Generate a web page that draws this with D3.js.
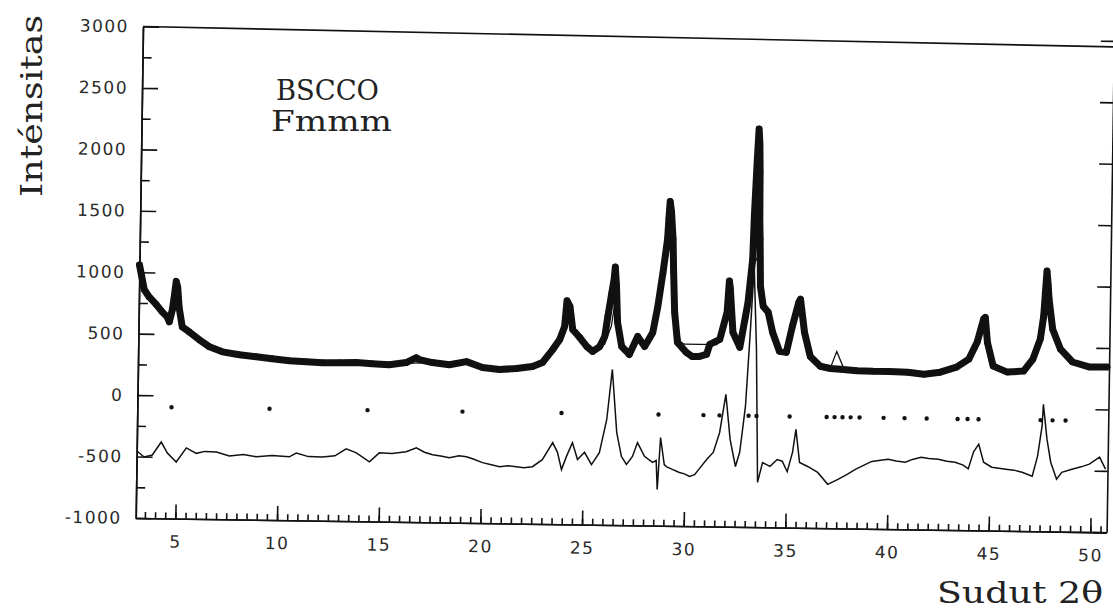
<!DOCTYPE html>
<html>
<head>
  <meta charset="utf-8">
  <title>BSCCO Fmmm</title>
<style>
  body { margin: 0; background: #fff; }
  .tick text { font-family: "DejaVu Sans", sans-serif; font-size: 17px; fill: #2a2a2a; letter-spacing: 1.5px; }
  .axis path, .axis line { stroke: #111; stroke-width: 1.6; }
  .label { font-family: "DejaVu Serif", serif; fill: #222; }
</style>
</head>
<body>
<svg width="1113" height="614"></svg>
<script src="https://cdn.jsdelivr.net/npm/d3@7"></script>
<script>

// observed points (2-theta, counts)
var obsAngle = [3.05,3.14,3.3,3.55,3.9,4.2,4.45,4.56,4.7,4.78,4.87,4.95,5.03,5.2,5.55,6.05,6.55,7.19,8.03,8.86,
  9.65,10.49,11.33,12.11,12.95,13.79,14.57,15.4,16.24,16.73,16.88,17.52,18.36,19.2,19.99,20.83,21.66,22.45,22.94,23.43,
  23.77,24.0,24.1,24.25,24.4,24.75,25.1,25.4,25.74,25.98,26.12,26.3,26.4,26.45,26.52,26.6,26.82,27.2,27.6,27.95,
  28.34,28.57,28.8,29.0,29.05,29.1,29.17,29.27,29.32,29.4,29.56,30.0,30.3,30.65,31.0,31.15,31.64,31.98,32.07,32.12,
  32.28,32.63,33.0,33.2,33.25,33.35,33.42,33.47,33.5,33.52,33.55,33.6,33.75,34.0,34.23,34.58,34.92,35.2,35.5,35.58,
  35.8,36.1,36.6,37.1,37.6,38.4,39.2,40.0,40.9,41.7,42.5,43.3,43.9,44.3,44.6,44.68,44.8,45.1,45.8,46.6,
  47.05,47.4,47.55,47.62,47.68,47.75,47.8,48.0,48.4,49.0,49.85,50.7];
var obsCount = [1060,990,860,800,740,680,640,600,700,800,930,880,720,560,520,457,402,362,340,326,
  312,298,292,286,288,291,284,278,297,338,322,300,285,312,266,252,262,280,314,420,
  503,610,820,774,586,522,450,410,451,533,697,893,1000,1100,950,650,454,390,537,457,
  572,785,1063,1332,1500,1640,1560,1333,1067,738,494,414,380,382,400,482,524,745,1000,940,
  583,461,828,1180,1530,1978,2240,2120,1890,1506,1344,961,798,750,588,434,426,639,835,860,
  591,396,317,300,295,285,282,282,279,265,283,326,393,533,721,735,533,339,292,302,
  401,565,752,950,1120,1000,892,647,485,382,343,345];

// calculated profile
var calcAngle = [3.05,3.3,3.9,4.45,4.7,4.87,5.03,5.3,6.05,7.19,8.86,10.49,12.11,13.79,15.4,16.24,17.52,19.2,20.83,22.45,
  23.0,23.5,23.9,24.15,24.4,24.75,25.4,25.98,26.3,26.45,26.6,26.9,27.2,27.6,27.95,28.34,28.8,29.1,29.4,29.7,
  29.9,31.5,31.98,32.1,32.3,32.63,33.0,33.3,33.45,33.6,34.0,34.3,34.6,34.92,35.3,35.6,35.9,36.2,36.8,37.1,
  37.4,37.75,38.4,40.0,41.7,43.3,43.9,44.3,44.65,45.0,45.8,46.6,47.05,47.4,47.68,48.0,48.4,49.0,49.85,50.7];
var calcCount = [1000,870,740,640,650,880,720,560,457,362,326,300,290,288,282,290,300,290,258,280,
  320,420,560,780,590,520,420,470,620,800,600,440,400,500,460,540,1000,1650,760,500,
  480,480,700,900,600,470,700,1150,1200,900,720,560,440,430,650,820,560,390,310,305,
  440,305,290,282,270,320,390,530,690,380,295,302,400,560,1000,650,480,385,345,345];

// difference curve (observed - calculated, shifted)
var diffAngle = [3.1,3.18,3.42,3.82,4.25,4.56,5.0,5.49,5.98,6.4,6.97,7.61,8.3,8.94,9.7,10.56,10.9,11.5,12.18,12.8,
  13.35,13.85,14.5,14.98,15.6,16.3,16.8,17.2,17.6,18.0,18.43,18.9,19.27,19.6,20.06,20.5,20.9,21.3,21.73,22.1,
  22.52,23.0,23.5,23.74,23.95,24.18,24.47,24.73,25.07,25.42,25.8,26.14,26.38,26.64,26.89,27.14,27.43,27.67,28.02,28.42,
  28.6,28.67,28.8,29.0,29.1,29.4,29.75,30.0,30.25,30.5,30.7,31.1,31.4,31.7,31.98,32.22,32.5,32.7,32.95,33.14,
  33.28,33.45,33.6,33.83,34.2,34.55,34.8,35.05,35.3,35.45,35.65,36.05,36.55,37.05,37.55,38.0,38.4,39.2,40.0,40.4,
  40.85,41.2,41.63,42.0,42.47,42.9,43.3,43.7,43.95,44.2,44.45,44.7,45.1,45.8,46.2,46.6,47.1,47.35,47.55,47.6,
  47.8,48.0,48.3,48.55,49.05,49.5,49.9,50.4,50.7];
var diffCount = [-460,-471,-503,-486,-379,-468,-540,-424,-467,-450,-453,-484,-470,-488,-475,-484,-452,-480,-481,-470,
  -412,-444,-515,-441,-445,-428,-395,-430,-450,-460,-472,-455,-462,-480,-508,-525,-539,-530,-537,-545,
  -535,-477,-337,-415,-555,-449,-334,-471,-412,-511,-413,-142,266,-247,-442,-506,-440,-326,-437,-486,
  -470,-706,-282,-502,-518,-540,-565,-575,-596,-580,-537,-451,-397,-234,77,-289,-509,-393,-19,609,
  1123,448,-636,-473,-504,-447,-460,-545,-385,-199,-468,-500,-547,-643,-601,-560,-518,-451,-432,-445,
  -454,-430,-411,-420,-425,-440,-448,-470,-500,-360,-298,-444,-484,-498,-505,-521,-552,-388,-144,35,
  -249,-436,-574,-517,-490,-470,-447,-389,-486];

// Bragg reflection positions
var braggAngle = [4.73,9.55,14.37,19.04,23.91,28.68,30.89,31.68,33.11,33.5,35.13,36.95,37.34,37.73,38.13,38.57,
  39.75,40.78,41.87,43.39,43.88,44.42,47.47,48.06,48.7];
var braggLevel = -95;

var yTicks = [-1000,-500,0,500,1000,1500,2000,2500,3000];
var xTicks = [5,10,15,20,25,30,35,40,45,50];

var svg = d3.select("svg");
var W = 971, H = 491.5;

var x = d3.scaleLinear().domain([3.05, 50.8]).range([0, W]);
var y = d3.scaleLinear().domain([-1000, 3000]).range([H, 0]);

// the scanned figure sits slightly tilted
var g = svg.append("g").attr("transform", "translate(143,26.5) rotate(0.85)");

// axes
g.append("g").attr("class", "axis")
  .attr("transform", "translate(0," + H + ")")
  .call(d3.axisBottom(x).tickValues(d3.range(3.5, 50.8, 0.5)).tickSize(-6).tickSizeOuter(0).tickFormat(""));
g.append("g").attr("class", "axis")
  .attr("transform", "translate(0," + H + ")")
  .call(d3.axisBottom(x).tickValues(xTicks).tickSize(-14).tickSizeOuter(0).tickPadding(17));

g.append("g").attr("class", "axis")
  .call(d3.axisLeft(y).tickValues(d3.range(-750, 3000, 500)).tickSize(-9).tickSizeOuter(0).tickFormat(""));
g.append("g").attr("class", "axis")
  .call(d3.axisLeft(y).tickValues(yTicks).tickSize(-16).tickSizeOuter(0).tickPadding(14)
    .tickFormat(function(d) { return d < 0 ? "-" + Math.abs(d) : String(d); }));

g.append("g").attr("class", "axis")
  .attr("transform", "translate(" + W + ",0)")
  .call(d3.axisRight(y).tickValues(yTicks).tickSize(-13).tickSizeOuter(0).tickFormat(""));

g.append("line").attr("x1", 0).attr("x2", W).attr("y1", y(3000)).attr("y2", y(3000) + 6)
  .attr("stroke", "#111").attr("stroke-width", 1.6);

// observed
var obs = obsAngle.map(function(a, i) { return [a, obsCount[i]]; });
var line = d3.line().x(function(d) { return x(d[0]); }).y(function(d) { return y(d[1]); });

g.append("path").datum(obs)
  .attr("d", line).attr("fill", "none").attr("stroke", "#111")
  .attr("stroke-width", 7).attr("stroke-linejoin", "round").attr("stroke-linecap", "round");
g.append("g").selectAll("circle").data(obs).enter().append("circle")
  .attr("cx", function(d) { return x(d[0]); })
  .attr("cy", function(d) { return y(d[1]); })
  .attr("r", 3.2).attr("fill", "#111");

// calculated
var calc = calcAngle.map(function(a, i) { return [a, calcCount[i]]; });
g.append("path").datum(calc)
  .attr("d", line).attr("fill", "none").attr("stroke", "#111").attr("stroke-width", 1.3);

// difference
var diff = diffAngle.map(function(a, i) { return [a, diffCount[i]]; });
g.append("path").datum(diff)
  .attr("d", line).attr("fill", "none").attr("stroke", "#111").attr("stroke-width", 1.5);

// reflection markers
g.append("g").selectAll("circle").data(braggAngle).enter().append("circle")
  .attr("cx", function(d) { return x(d); })
  .attr("cy", y(braggLevel))
  .attr("r", 2.2).attr("fill", "#111");

// labels
svg.append("text").attr("class", "label")
  .attr("transform", "translate(42,106) rotate(-90)")
  .attr("text-anchor", "middle").attr("font-size", 29)
  .attr("textLength", 182).attr("lengthAdjust", "spacingAndGlyphs")
  .text("Inténsitas");

svg.append("text").attr("class", "label")
  .attr("x", 276).attr("y", 100).attr("font-size", 28)
  .attr("textLength", 103).attr("lengthAdjust", "spacingAndGlyphs")
  .text("BSCCO");
svg.append("text").attr("class", "label")
  .attr("x", 271).attr("y", 131).attr("font-size", 28)
  .attr("textLength", 121).attr("lengthAdjust", "spacingAndGlyphs")
  .text("Fmmm");

svg.append("text").attr("class", "label")
  .attr("x", 937).attr("y", 603).attr("font-size", 29)
  .attr("textLength", 166).attr("lengthAdjust", "spacingAndGlyphs")
  .text("Sudut 2θ");

</script>
</body>
</html>
